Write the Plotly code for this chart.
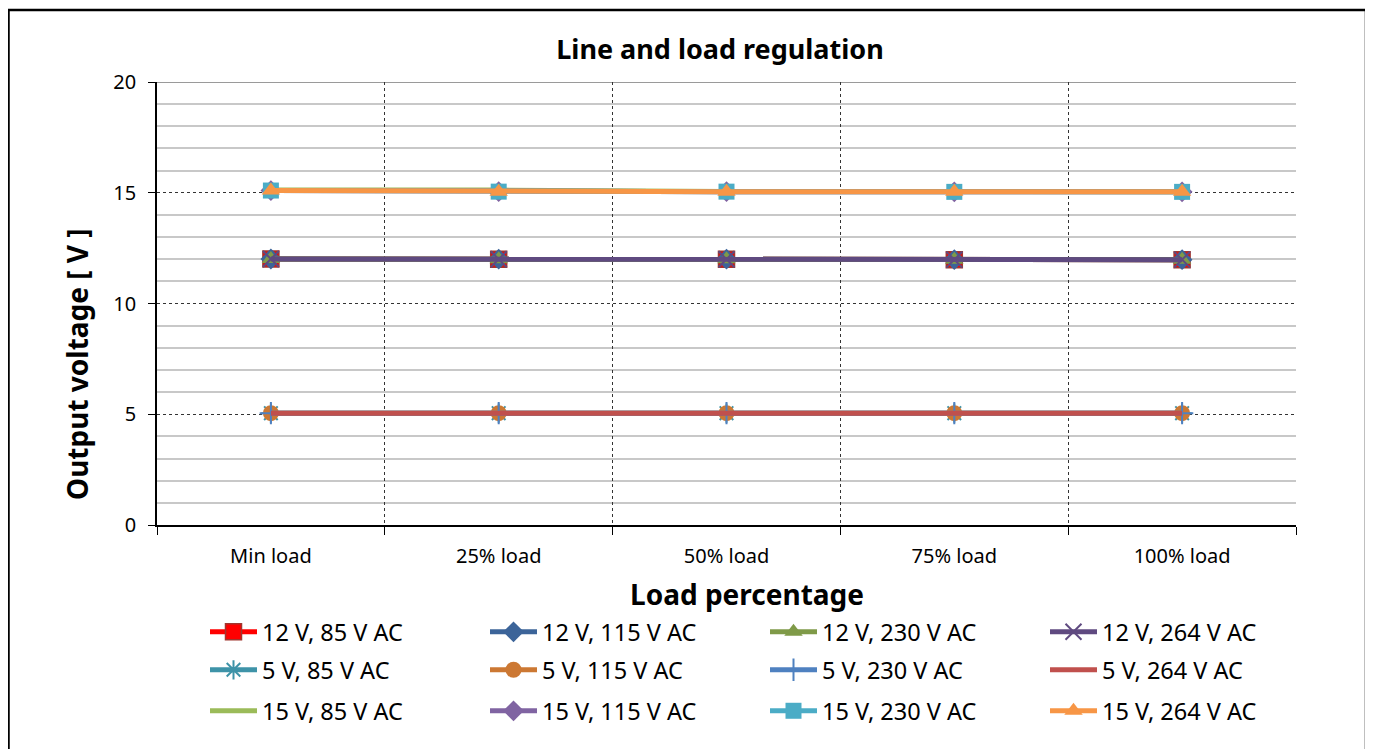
import plotly.graph_objects as go

categories = ["Min load", "25% load", "50% load", "75% load", "100% load"]

v12_85 = [12.01, 12.00, 12.00, 11.98, 11.98]
v12_115 = [12.01, 12.00, 12.00, 11.98, 11.98]
v12_230 = [12.01, 12.00, 12.00, 11.98, 11.98]
v12_264 = [12.01, 12.00, 12.00, 11.98, 11.98]
v5_85 = [5.05, 5.05, 5.05, 5.05, 5.05]
v5_115 = [5.05, 5.05, 5.05, 5.05, 5.05]
v5_230 = [5.05, 5.05, 5.05, 5.05, 5.05]
v5_264 = [5.05, 5.05, 5.05, 5.05, 5.05]
v15_85 = [15.12, 15.12, 15.06, 15.06, 15.05]
v15_115 = [15.10, 15.05, 15.05, 15.04, 15.04]
v15_230 = [15.10, 15.05, 15.05, 15.04, 15.04]
v15_264 = [15.10, 15.05, 15.05, 15.04, 15.04]

MS = 16
series = [
    ("12 V, 85 V AC", v12_85, "#FF0000", dict(symbol="square", size=MS, color="#FF0000", line=dict(color="#A0362F", width=1.5))),
    ("12 V, 115 V AC", v12_115, "#3C6499", dict(symbol="diamond", size=MS, color="#3C6499")),
    ("12 V, 230 V AC", v12_230, "#7F9A48", dict(symbol="triangle-up", size=MS, color="#7F9A48")),
    ("12 V, 264 V AC", v12_264, "#5F4A80", dict(symbol="x-thin", size=MS, color="#5F4A80", line=dict(color="#5F4A80", width=2))),
    ("5 V, 85 V AC", v5_85, "#3E93A8", dict(symbol="asterisk", size=MS, color="#3E93A8", line=dict(color="#3E93A8", width=2))),
    ("5 V, 115 V AC", v5_115, "#CC7833", dict(symbol="circle", size=MS, color="#CC7833")),
    ("5 V, 230 V AC", v5_230, "#4F81C0", dict(symbol="cross-thin", size=MS, color="#4F81C0", line=dict(color="#4F81C0", width=2))),
    ("5 V, 264 V AC", v5_264, "#C0504D", None),
    ("15 V, 85 V AC", v15_85, "#9BBB59", None),
    ("15 V, 115 V AC", v15_115, "#8064A2", dict(symbol="diamond", size=MS, color="#8064A2")),
    ("15 V, 230 V AC", v15_230, "#4BACC6", dict(symbol="square", size=MS, color="#4BACC6")),
    ("15 V, 264 V AC", v15_264, "#F79646", dict(symbol="triangle-up", size=MS, color="#F79646")),
]

legend_ids = ["legend"] + ["legend%d" % k for k in range(2, len(series) + 1)]

fig = go.Figure()
for i, (name, vals, col, mk) in enumerate(series):
    leg = legend_ids[i]
    if mk is None:
        fig.add_trace(go.Scatter(x=categories, y=vals, name=name, mode="lines",
                                 line=dict(color=col, width=5), legend=leg))
    else:
        fig.add_trace(go.Scatter(x=categories, y=vals, name=name, mode="lines+markers",
                                 line=dict(color=col, width=5), marker=mk, legend=leg))

font_family = "Noto Sans"
OFF = 8  # browser body margin
W, H = 1373 - OFF, 749 - OFF
px0, px1, py0, py1 = 157 - OFF, 1296 - OFF, 82 - OFF, 525 - OFF  # plot area in figure coords
l, r, t, b = px0, W - px1, py0, H - py1
pw, ph = px1 - px0, py1 - py0


def pyf(y_page):
    return (525 - y_page) / ph


def pxf(x_page):
    return (x_page - 157) / pw


legend_rows_y = [632, 670, 711]
legend_cols_x = [205, 485, 765, 1045]
legend_common = dict(orientation="h", xanchor="left", yanchor="middle",
                     font=dict(size=23.5, family=font_family),
                     itemwidth=47, bgcolor="rgba(0,0,0,0)")

layout_legends = {}
for i, lid in enumerate(legend_ids):
    row, colm = divmod(i, 4)
    layout_legends[lid] = dict(legend_common, x=pxf(legend_cols_x[colm]), y=pyf(legend_rows_y[row]))

fig.update_layout(
    width=W, height=H,
    margin=dict(l=l, r=r, t=t, b=b, autoexpand=False),
    paper_bgcolor="white", plot_bgcolor="white",
    font=dict(family=font_family, color="black", size=20),
    title=dict(text="<b>Line and load regulation</b>", x=(720 - OFF) / W,
               xanchor="center", y=1 - (50 - OFF) / H, yanchor="middle",
               font=dict(size=27, family=font_family)),
    showlegend=True,
    shapes=[
        dict(type="rect", xref="paper", yref="paper",
             x0=(OFF + 0.5 - 157) / pw, x1=pxf(1366),
             y0=pyf(760), y1=pyf(10),
             line=dict(color="black", width=2.5), layer="below"),
        dict(type="line", xref="paper", yref="y", x0=0, x1=1, y0=20, y1=20,
             line=dict(color="#9A9A9A", width=2), layer="between"),
    ],
    annotations=[
        dict(text="<b>Load percentage</b>", xref="paper", yref="paper",
             x=pxf(747), y=pyf(594), xanchor="center", yanchor="middle",
             showarrow=False, font=dict(size=28, family=font_family)),
        dict(text="<b>Output voltage [ V ]</b>", xref="paper", yref="paper",
             x=pxf(77), y=pyf(364), xanchor="center", yanchor="middle", textangle=-90,
             showarrow=False, font=dict(size=28, family=font_family)),
    ],
    **layout_legends,
)

fig.update_xaxes(
    type="category", range=[-0.5, 4.5], tickson="boundaries", showgrid=True,
    gridcolor="#333333", griddash="dot", gridwidth=1, showline=True,
    linecolor="black", linewidth=1.5, ticks="outside", ticklen=8, tickcolor="black",
    tickfont=dict(size=20), ticklabelstandoff=12, zeroline=False,
)
fig.update_yaxes(
    range=[0, 20], dtick=5, tick0=0, showgrid=True, gridcolor="#333333", griddash="dot",
    gridwidth=1, showline=True, linecolor="black", linewidth=1.5,
    ticks="outside", ticklen=7, tickcolor="black", tickfont=dict(size=20),
    ticklabelstandoff=8, zeroline=False,
    minor=dict(dtick=1, showgrid=True, gridcolor="#C8C8C8", gridwidth=2, griddash="solid", ticks=""),
)

fig.write_html("out.html")
